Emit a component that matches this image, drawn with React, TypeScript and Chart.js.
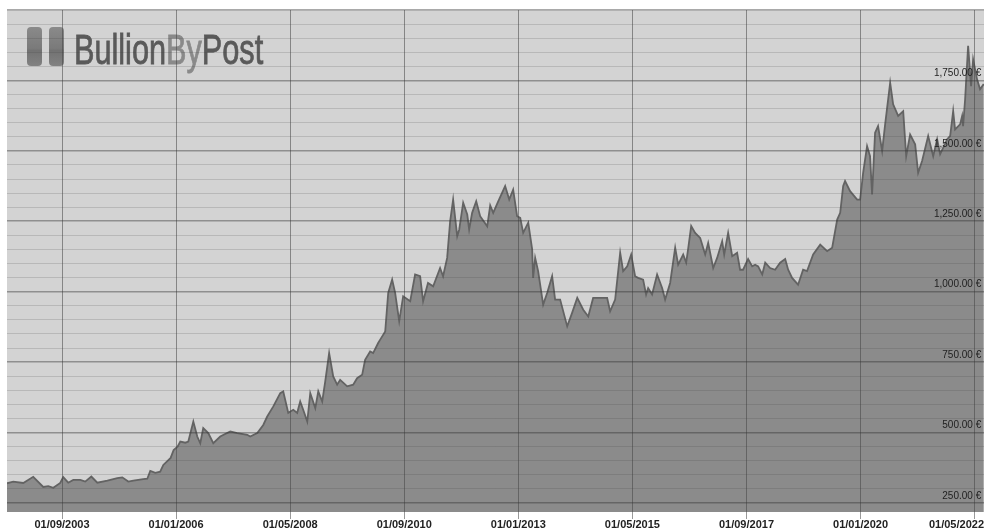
import React, { useEffect, useRef } from 'react';
import { Chart, registerables } from 'chart.js';

Chart.register(...registerables);

const DATES = [
  '2002-07-16', '2002-09-02', '2002-11-16', '2003-01-29', '2003-04-13', '2003-05-20', '2003-06-27', '2003-08-18',
  '2003-09-10', '2003-10-17', '2003-11-24', '2004-01-16', '2004-02-22', '2004-04-07', '2004-05-21', '2004-08-05',
  '2004-10-18', '2004-11-25', '2005-01-09', '2005-02-16', '2005-04-29', '2005-05-29', '2005-06-21', '2005-07-28',
  '2005-09-04', '2005-09-27', '2005-11-21', '2005-12-13', '2006-01-12', '2006-02-02', '2006-03-09', '2006-04-01',
  '2006-05-08', '2006-06-07', '2006-06-29', '2006-07-21', '2006-08-28', '2006-10-05', '2006-11-26', '2007-02-10',
  '2007-04-01', '2007-06-15', '2007-07-07', '2007-08-29', '2007-10-13', '2007-11-12', '2007-12-26', '2008-02-18',
  '2008-03-10', '2008-04-17', '2008-05-24', '2008-06-23', '2008-07-15', '2008-08-07', '2008-09-07', '2008-09-29',
  '2008-11-06', '2008-11-28', '2008-12-27', '2009-01-19', '2009-02-18', '2009-03-18', '2009-04-17', '2009-05-09',
  '2009-07-01', '2009-08-15', '2009-09-14', '2009-10-21', '2009-11-13', '2009-12-20', '2010-01-12', '2010-02-19',
  '2010-03-04', '2010-04-11', '2010-05-03', '2010-06-02', '2010-06-24', '2010-07-24', '2010-08-23', '2010-10-15',
  '2010-11-21', '2010-12-28', '2011-01-20', '2011-02-26', '2011-04-04', '2011-05-25', '2011-06-17', '2011-07-17',
  '2011-08-09', '2011-09-01', '2011-10-01', '2011-10-16', '2011-11-15', '2011-12-15', '2011-12-29', '2012-01-21',
  '2012-02-21', '2012-03-20', '2012-05-12', '2012-06-04', '2012-06-26', '2012-08-03', '2012-09-24', '2012-10-24',
  '2012-11-23', '2012-12-22', '2013-01-15', '2013-02-07', '2013-03-14', '2013-04-13', '2013-04-20', '2013-05-05',
  '2013-05-27', '2013-07-04', '2013-08-04', '2013-09-10', '2013-10-02', '2013-11-09', '2014-01-01', '2014-02-07',
  '2014-03-15', '2014-04-29', '2014-06-06', '2014-07-12', '2014-09-04', '2014-10-25', '2014-11-17', '2014-12-24',
  '2015-02-01', '2015-02-23', '2015-03-23', '2015-04-22', '2015-05-21', '2015-06-13', '2015-07-20', '2015-08-12',
  '2015-08-27', '2015-09-26', '2015-11-03', '2015-12-10', '2016-01-02', '2016-02-09', '2016-03-16', '2016-04-08',
  '2016-05-15', '2016-06-07', '2016-06-21', '2016-07-14', '2016-08-13', '2016-09-20', '2016-10-27', '2016-11-19',
  '2016-12-26', '2017-01-25', '2017-03-02', '2017-03-17', '2017-04-16', '2017-05-16', '2017-06-22', '2017-07-14',
  '2017-08-06', '2017-09-13', '2017-10-13', '2017-11-05', '2017-11-27', '2017-12-27', '2018-01-19', '2018-02-25',
  '2018-04-02', '2018-05-09', '2018-06-16', '2018-07-08', '2018-08-07', '2018-09-21', '2018-10-28', '2018-11-27',
  '2019-01-12', '2019-03-04', '2019-04-25', '2019-06-02', '2019-07-09', '2019-07-31', '2019-08-23', '2019-09-07',
  '2019-10-14', '2019-12-06', '2019-12-28', '2020-01-20', '2020-02-19', '2020-03-11', '2020-03-26', '2020-04-18',
  '2020-05-10', '2020-06-10', '2020-07-02', '2020-08-09', '2020-09-01', '2020-10-08', '2020-11-15', '2020-12-07',
  '2021-01-06', '2021-02-13', '2021-03-05', '2021-04-04', '2021-05-19', '2021-06-26', '2021-07-25', '2021-08-17',
  '2021-10-09', '2021-10-31', '2021-11-23', '2021-12-07', '2022-01-14', '2022-01-29', '2022-02-06', '2022-02-21',
  '2022-03-13', '2022-04-05', '2022-04-20', '2022-05-19', '2022-06-11', '2022-07-08',
];

const PRICES = [
  320, 326, 321, 343, 307, 310, 304, 321,
  342, 322, 332, 332, 326, 344, 322, 329,
  338, 341, 326, 329, 335, 336, 364, 357,
  361, 385, 410, 438, 450, 468, 464, 468,
  539, 486, 462, 516, 498, 462, 486, 504,
  498, 492, 486, 498, 527, 557, 592, 640,
  646, 570, 581, 570, 610, 581, 539, 640,
  587, 646, 610, 681, 782, 699, 670, 687,
  664, 670, 693, 705, 758, 788, 782, 818,
  830, 859, 996, 1043, 996, 895, 984, 966,
  1061, 1055, 966, 1031, 1019, 1084, 1055, 1120,
  1250, 1327, 1197, 1221, 1316, 1274, 1221, 1280,
  1321, 1268, 1232, 1306, 1280, 1321, 1375, 1327,
  1362, 1268, 1262, 1209, 1245, 1150, 1049, 1120,
  1073, 954, 996, 1055, 972, 972, 877, 925,
  978, 936, 912, 978, 978, 978, 930, 972,
  1138, 1073, 1090, 1132, 1055, 1049, 1043, 990,
  1013, 990, 1061, 1013, 972, 1031, 1156, 1096,
  1132, 1103, 1150, 1233, 1209, 1191, 1132, 1173,
  1084, 1120, 1179, 1132, 1209, 1126, 1138, 1078,
  1078, 1116, 1090, 1096, 1090, 1061, 1103, 1084,
  1078, 1103, 1116, 1078, 1049, 1025, 1078, 1073,
  1132, 1167, 1144, 1156, 1256, 1280, 1375, 1393,
  1357, 1327, 1327, 1422, 1517, 1481, 1345, 1564,
  1588, 1499, 1594, 1742, 1665, 1624, 1641, 1481,
  1558, 1523, 1422, 1464, 1553, 1481, 1541, 1488,
  1541, 1553, 1641, 1576, 1594, 1624, 1588, 1683,
  1873, 1730, 1825, 1754, 1719, 1737,
];

const X_TICK_LABELS = [
  '01/09/2003', '01/01/2006', '01/05/2008', '01/09/2010', '01/01/2013',
  '01/05/2015', '01/09/2017', '01/01/2020', '01/05/2022',
];
const Y_LABEL_VALUES = [250, 500, 750, 1000, 1250, 1500, 1750];
const Y_MIN = 218;
const Y_MAX = 2000;
const Y_GRID_FIRST = 250;
const Y_GRID_STEP = 50;
const X_START = '2002-07-16';
const X_END = '2022-07-10';

const monthIndex = (iso: string) => {
  const [y, m, d] = iso.split('-').map(Number);
  return (y - 2000) * 12 + (m - 1) + (d - 1) / 30;
};
const labelMonth = (label: string) => {
  const [d, m, y] = label.split('/').map(Number);
  return (y - 2000) * 12 + (m - 1) + (d - 1) / 30;
};

// trailing space keeps the right-aligned label just inside the plot edge
const fmtEuro = (v: number) =>
  v.toLocaleString('en-US', { minimumFractionDigits: 2, maximumFractionDigits: 2 }) + ' € ';

const bgPlugin = {
  id: 'plotBg',
  beforeDraw(chart: any) {
    const { ctx, chartArea } = chart;
    ctx.save();
    ctx.fillStyle = '#d3d3d3';
    ctx.fillRect(chartArea.left, chartArea.top, chartArea.right - chartArea.left, chartArea.bottom - chartArea.top);
    ctx.restore();
  },
};

const logoPlugin = {
  id: 'logo',
  afterDatasetsDraw(chart: any) {
    const ctx = chart.ctx as CanvasRenderingContext2D;
    ctx.save();
    const block = (x: number) => {
      const y = 27;
      const w = 15;
      const h = 39;
      const r = 4;
      const g = ctx.createLinearGradient(0, y, 0, y + h);
      g.addColorStop(0, '#8a8a8a');
      g.addColorStop(0.55, '#7a7a7a');
      g.addColorStop(0.6, '#727272');
      g.addColorStop(1, '#828282');
      ctx.fillStyle = g;
      ctx.beginPath();
      ctx.moveTo(x + r, y);
      ctx.lineTo(x + w - r, y);
      ctx.quadraticCurveTo(x + w, y, x + w, y + r);
      ctx.lineTo(x + w, y + h - r);
      ctx.quadraticCurveTo(x + w, y + h, x + w - r, y + h);
      ctx.lineTo(x + r, y + h);
      ctx.quadraticCurveTo(x, y + h, x, y + h - r);
      ctx.lineTo(x, y + r);
      ctx.quadraticCurveTo(x, y, x + r, y);
      ctx.closePath();
      ctx.fill();
    };
    block(27);
    block(49);
    ctx.translate(74, 63.5);
    ctx.scale(0.73, 1);
    ctx.font = '42px "Liberation Sans", Arial, sans-serif';
    ctx.textBaseline = 'alphabetic';
    ctx.textAlign = 'left';
    ctx.lineWidth = 0.8;
    let x = 0;
    const parts: [string, string][] = [['Bullion', '#5a5a5a'], ['By', '#8a8a8a'], ['Post', '#5a5a5a']];
    for (const [t, c] of parts) {
      ctx.fillStyle = c;
      ctx.strokeStyle = c;
      ctx.fillText(t, x, 0);
      ctx.strokeText(t, x, 0);
      x += ctx.measureText(t).width;
    }
    ctx.restore();
  },
};

export default function App() {
  const ref = useRef<HTMLCanvasElement | null>(null);

  useEffect(() => {
    if (!ref.current) return;
    const xMin = monthIndex(X_START);
    const xMax = monthIndex(X_END);
    const tickMonths = X_TICK_LABELS.map(labelMonth);
    const lastLabel = X_TICK_LABELS[X_TICK_LABELS.length - 1];
    const lastMonth = tickMonths[tickMonths.length - 1];
    const points = DATES.map((d, i) => ({ x: monthIndex(d), y: PRICES[i] }));

    const chart = new Chart(ref.current, {
      type: 'line',
      data: {
        datasets: [
          {
            data: points,
            borderColor: '#636363',
            borderWidth: 1.8,
            backgroundColor: '#8b8b8b',
            fill: 'start',
            pointRadius: 0,
            tension: 0,
          },
        ],
      },
      options: {
        animation: false,
        responsive: false,
        devicePixelRatio: 1,
        layout: { padding: { left: 7, top: 10, right: 0, bottom: 0 } },
        plugins: { legend: { display: false }, tooltip: { enabled: false } },
        scales: {
          x: {
            type: 'linear',
            min: xMin,
            max: xMax,
            afterBuildTicks: (scale: any) => {
              scale.ticks = [xMin, ...tickMonths, xMax].map((v) => ({ value: v }));
            },
            grid: {
              z: 1,
              drawOnChartArea: true,
              drawTicks: true,
              tickLength: 7,
              lineWidth: 1,
              color: (ctx: any) =>
                ctx.tick && tickMonths.includes(ctx.tick.value) ? 'rgba(70,70,70,0.55)' : 'rgba(0,0,0,0)',
            },
            border: { display: false },
            ticks: {
              z: 2,
              autoSkip: false,
              maxRotation: 0,
              align: 'inner',
              padding: 0,
              color: '#222222',
              font: { family: '"Liberation Sans", Arial, sans-serif', size: 11, weight: 'bold', lineHeight: 1 },
              callback: (v: any) => {
                if (v === xMax) return lastLabel;
                if (v === lastMonth || v === xMin) return '';
                const i = tickMonths.indexOf(v);
                return i >= 0 ? X_TICK_LABELS[i] : '';
              },
            },
          },
          y: {
            type: 'linear',
            position: 'right',
            min: Y_MIN,
            max: Y_MAX,
            afterBuildTicks: (scale: any) => {
              const t: { value: number }[] = [];
              for (let v = Y_GRID_FIRST; v <= Y_MAX; v += Y_GRID_STEP) t.push({ value: v });
              scale.ticks = t;
            },
            grid: {
              z: 1,
              drawTicks: false,
              color: (ctx: any) =>
                ctx.tick && ctx.tick.value % 250 === 0 ? 'rgba(50,50,50,0.42)' : 'rgba(60,60,60,0.18)',
              lineWidth: (ctx: any) => (ctx.tick && ctx.tick.value % 250 === 0 ? 1.6 : 1),
            },
            border: { display: false },
            ticks: {
              z: 2,
              autoSkip: false,
              mirror: true,
              padding: 0,
              labelOffset: -7,
              color: '#1e1e1e',
              font: { family: '"Liberation Sans", Arial, sans-serif', size: 10 },
              callback: (v: any) => (Y_LABEL_VALUES.includes(v) ? fmtEuro(v) : ''),
            },
          },
        },
      },
      plugins: [bgPlugin, logoPlugin],
    } as any);

    return () => chart.destroy();
  }, []);

  return (
    <div style={{ position: 'fixed', left: 0, top: 0, width: 984, height: 530, background: '#ffffff' }}>
      <canvas ref={ref} width={984} height={530} style={{ width: 984, height: 530, display: 'block' }} />
    </div>
  );
}
